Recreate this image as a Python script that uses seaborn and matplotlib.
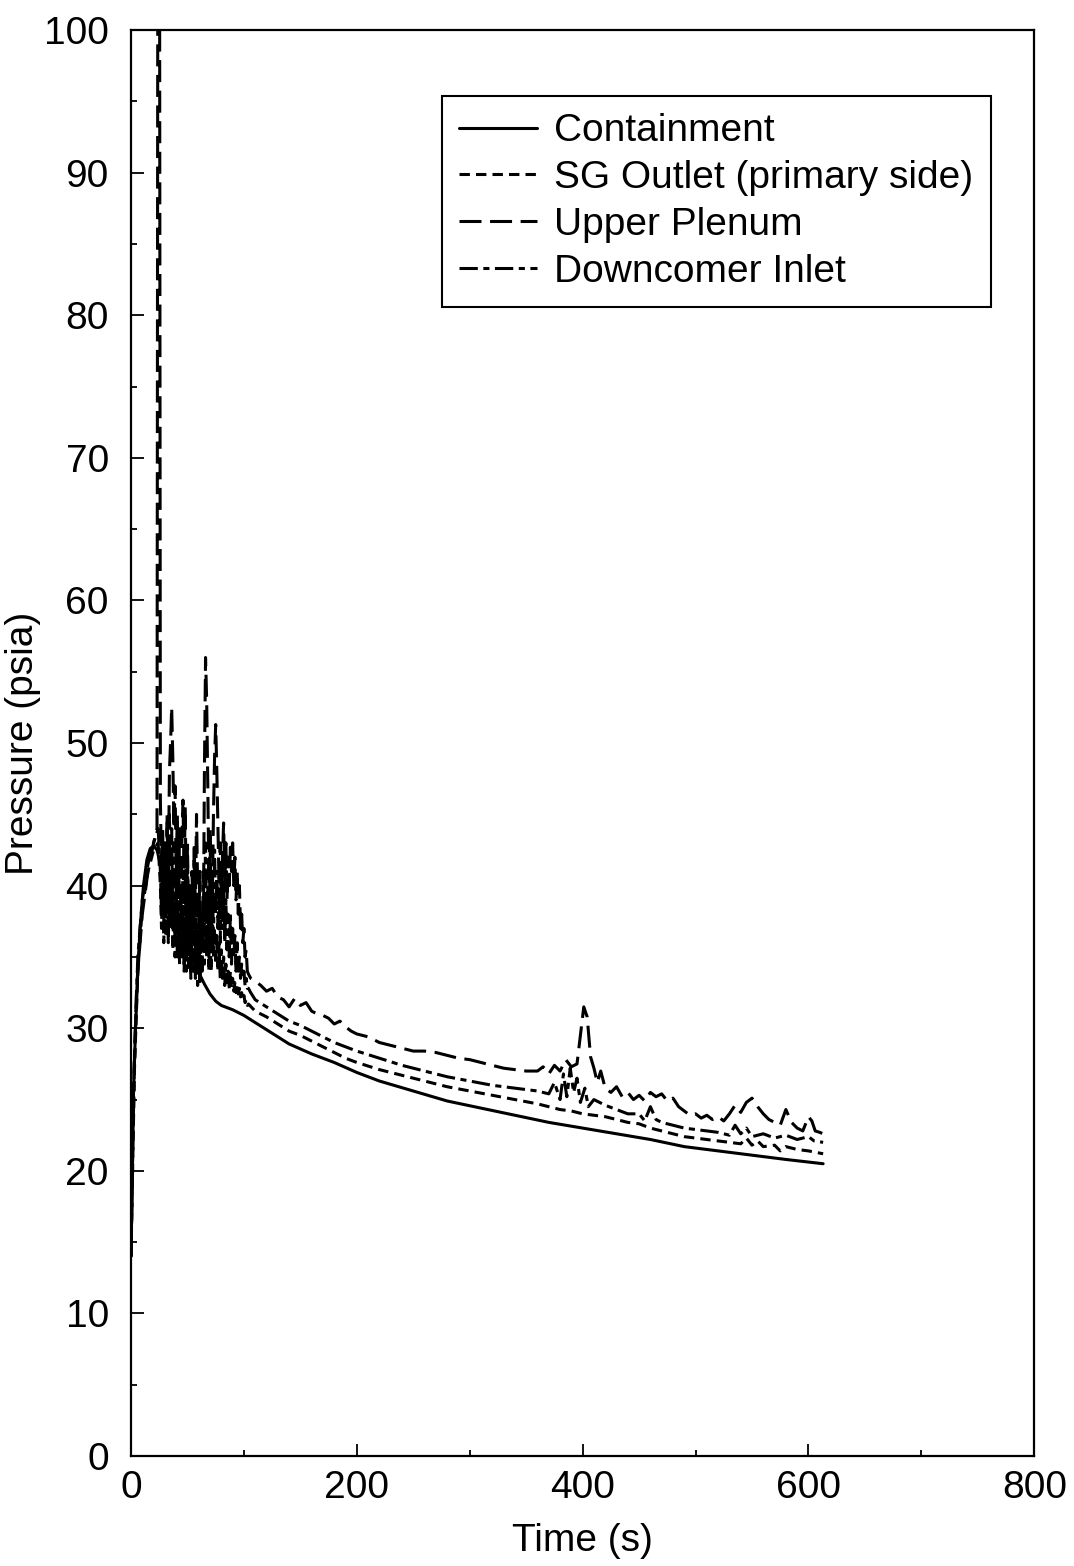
import matplotlib
matplotlib.use('Agg')
import matplotlib.pyplot as plt
from matplotlib.ticker import MultipleLocator
import seaborn as sns
import pandas as pd

# Containment (solid)
cont_t = [0, 1, 2, 4, 6, 8, 11, 14, 17, 20, 23, 26, 30, 35, 40, 45, 50, 55, 60, 65,
          70, 75, 80, 90, 100, 110, 120, 140, 160, 180, 200, 220, 250, 280, 310, 340,
          370, 400, 430, 460, 490, 520, 550, 580, 613]
cont_p = [14, 20, 25, 30, 34, 37, 40, 41.8, 42.6, 42.8, 42.5, 41.5, 40, 38.5, 37.5, 36.6,
          35.6, 34.7, 33.9, 33.1, 32.4, 31.9, 31.6, 31.3, 30.9, 30.4, 29.9, 28.9, 28.2,
          27.6, 26.9, 26.3, 25.6, 24.9, 24.4, 23.9, 23.4, 23.0, 22.6, 22.2, 21.7, 21.4,
          21.1, 20.8, 20.5]

# time stamps of the oscillating early phase (1 s output interval)
osc_t = list(range(26, 105))

# SG Outlet (primary side) - short dashes, lowest dashed curve
sg_t = [0, 3, 6, 10, 15, 20, 24] + osc_t + [
        110, 120, 130, 140, 150, 160, 170, 180, 190, 200, 220, 240, 260, 280, 300, 320,
        340, 360, 370, 380, 390, 400, 410, 420, 430, 440, 450, 460, 470, 480, 490, 500,
        510, 520, 530, 540, 545, 550, 555, 560, 570, 575, 580, 590, 600, 613]
sg_p = [14, 27, 34, 38.5, 41, 42.5, 43,
        40, 37, 41, 36, 40, 36.5, 42, 36, 40, 37, 41, 35.5, 39, 35, 40, 35, 38, 34.5, 39,
        35, 38, 34, 37, 34, 39, 34, 36.5, 33.5, 37, 34, 38, 33.5, 36, 33, 35, 33, 37, 34,
        38, 34.5, 39, 35, 38, 34, 37, 34, 38, 35, 37, 34.5, 36.5, 34, 36, 33.5, 35.5, 33.5,
        35, 33, 34.5, 33, 34, 32.8, 34, 32.8, 33.5, 32.6, 33.2, 32.5, 33, 32.4, 32.8, 32.2,
        32.5, 32, 32.3, 31.8, 32, 31.6, 31.7,
        31.2, 30.8, 30.3, 29.8, 29.5, 29.1, 28.7, 28.3, 27.9, 27.6, 27.1, 26.7, 26.3, 25.9,
        25.6, 25.3, 25.0, 24.7, 24.5, 24.3, 24.2, 24.0, 23.9, 23.8, 23.6, 23.4, 23.3, 23.0,
        22.8, 22.6, 22.4, 22.3, 22.2, 22.1, 22.0, 21.9, 22.3, 21.8, 22.1, 21.7, 21.8, 21.4,
        21.7, 21.5, 21.4, 21.2]

# Upper Plenum - long dashes, top curve with the spikes
up_t = [0, 2, 5, 10, 15, 20, 23, 24, 25] + osc_t + [
        106, 110, 115, 120, 125, 130, 135, 140, 145, 150, 155, 160, 165, 170, 175, 180,
        185, 190, 195, 200, 210, 220, 230, 240, 250, 260, 270, 280, 290, 300, 310, 320,
        330, 340, 350, 360, 365, 370, 375, 380, 385, 390, 395, 398, 401, 404, 407, 410,
        413, 416, 420, 425, 430, 435, 440, 445, 450, 455, 460, 465, 470, 475, 480, 485,
        490, 495, 500, 505, 510, 515, 520, 525, 530, 535, 540, 545, 550, 555, 560, 565,
        570, 575, 580, 585, 590, 595, 600, 603, 606, 610, 613]
up_p = [14, 25, 33, 38, 41, 43, 44, 130, 130,
        46, 41, 44, 39, 43, 38, 45, 40, 48, 50, 52.5, 49, 44, 47, 41, 45, 39, 44, 37, 43,
        46, 41, 45.5, 38, 42, 36, 40, 35, 41, 37, 43, 38, 45, 40, 37, 41, 34, 38, 36, 48,
        56, 53, 47, 40, 44, 36, 39, 45, 49, 51.3, 48, 44, 40, 43, 38, 42, 44.4, 40, 43, 39,
        42, 40, 42.7, 41, 43, 40, 42, 39, 41, 38, 40, 37, 38, 36, 37, 35, 35.5, 34, 33.8,
        33.5, 33.3, 33, 32.6, 32.8, 32.2, 32.0, 31.5, 32.1, 31.6, 31.8, 31.2, 31.0, 30.9,
        30.7, 30.3, 30.5, 30.1, 29.8, 29.6, 29.4, 29.0, 28.8, 28.6, 28.4, 28.4, 28.3, 28.1,
        27.9, 27.8, 27.6, 27.4, 27.2, 27.1, 27.0, 27.0, 27.3, 26.8, 27.4, 27.0, 27.8, 27.3,
        27.5, 29.5, 31.5, 30.8, 28, 27.2, 26.2, 27.0, 25.8, 25.5, 25.9, 25.2, 25.5, 25.0,
        25.3, 24.9, 25.5, 25.2, 25.4, 24.9, 25.1, 24.5, 24.2, 23.9, 24.0, 23.7, 23.9, 23.6,
        23.8, 23.5, 24.0, 24.6, 24.1, 24.8, 25.1, 24.5, 24.0, 23.6, 23.4, 23.2, 24.3, 23.4,
        23.0, 22.8, 23.8, 23.5, 22.8, 22.7, 22.6]

# Downcomer Inlet - dash-dot, middle curve
dc_t = [0, 3, 6, 10, 15, 20, 24] + osc_t + [
        106, 110, 120, 130, 140, 150, 160, 170, 180, 190, 200, 220, 240, 260, 280, 300,
        320, 340, 360, 370, 375, 380, 383, 386, 389, 392, 395, 398, 402, 405, 410, 420,
        430, 440, 450, 455, 460, 465, 470, 480, 490, 500, 510, 520, 530, 535, 540, 545,
        550, 560, 570, 580, 590, 600, 605, 613]
dc_p = [14, 28, 35, 39, 41.5, 43, 44,
        41, 38, 42, 37, 43, 39, 44, 38, 45, 40, 44, 37, 43, 36, 41, 37, 44, 36, 40, 35, 42,
        37, 41, 36, 43, 35, 39, 34, 40, 36, 42, 35, 39, 34, 37, 33.5, 38, 34, 41, 37, 43,
        36, 40, 35, 42, 37, 41, 36, 42.5, 38, 41, 37, 40, 36, 41, 37, 40, 36, 39, 35.5, 38,
        35, 38, 34.5, 37, 35, 36.5, 34, 36, 34, 35, 33.5, 34.5, 33.5, 34, 33, 33.5, 32.8,
        32.8,
        32.5, 32, 31.5, 31, 30.5, 30.2, 29.8, 29.4, 29.0, 28.7, 28.4, 27.9, 27.4, 27.0,
        26.6, 26.3, 26.0, 25.8, 25.6, 25.4, 26.2, 25.0, 26.8, 25.2, 27.2, 25.5, 26.5, 24.8,
        25.8, 24.5, 25.0, 24.6, 24.3, 24.0, 24.0, 23.5, 24.5, 23.6, 23.4, 23.2, 23.0, 22.9,
        22.8, 22.7, 22.5, 23.2, 22.6, 23.0, 22.4, 22.6, 22.3, 22.5, 22.2, 22.4, 22.1, 22.0]

labels = ['Containment', 'SG Outlet (primary side)', 'Upper Plenum', 'Downcomer Inlet']
styles = ['-', (0, (3.4, 2.0)), (0, (7.2, 2.8)), (0, (6.0, 1.8, 2.0, 1.8))]
series = [(cont_t, cont_p), (sg_t, sg_p), (up_t, up_p), (dc_t, dc_p)]

sns.set_style('ticks')
plt.rcParams['font.family'] = ['Liberation Sans Narrow', 'Liberation Sans', 'DejaVu Sans']
plt.rcParams['text.color'] = 'black'
plt.rcParams['axes.labelcolor'] = 'black'

fig = plt.figure(figsize=(10.74, 15.66), dpi=100)
ax = fig.add_axes([0.122, 0.0702, 0.841, 0.9106])

for (t, p), lab, ls in zip(series, labels, styles):
    df = pd.DataFrame({'Time': t, 'Pressure': p})
    sns.lineplot(data=df, x='Time', y='Pressure', ax=ax, color='black', linewidth=2.2,
                 linestyle=ls, label=lab, estimator=None, sort=False)

ax.set_xlim(0, 800)
ax.set_ylim(0, 100)
ax.xaxis.set_major_locator(MultipleLocator(200))
ax.xaxis.set_minor_locator(MultipleLocator(100))
ax.yaxis.set_major_locator(MultipleLocator(10))
ax.yaxis.set_minor_locator(MultipleLocator(5))
ax.tick_params(which='both', direction='in', width=1.3, colors='black', labelsize=28)
ax.tick_params(which='major', length=9)
ax.tick_params(which='minor', length=4.5)
ax.tick_params(axis='y', pad=16)
ax.tick_params(axis='x', pad=10)
for sp in ax.spines.values():
    sp.set_linewidth(1.6)
    sp.set_color('black')

ax.set_xlabel('Time (s)', fontsize=28, labelpad=12, color='black')
ax.set_ylabel('Pressure (psia)', fontsize=28, labelpad=2, color='black')

leg = ax.legend(loc='upper right', bbox_to_anchor=(0.952, 0.954), borderaxespad=0,
                fontsize=28, frameon=True, fancybox=False, edgecolor='black',
                framealpha=1, handlelength=2.0, handletextpad=0.44, borderpad=0.45,
                labelspacing=0.28, labelcolor='black')
leg.get_frame().set_linewidth(1.5)

fig.savefig('out.png', dpi=100)
